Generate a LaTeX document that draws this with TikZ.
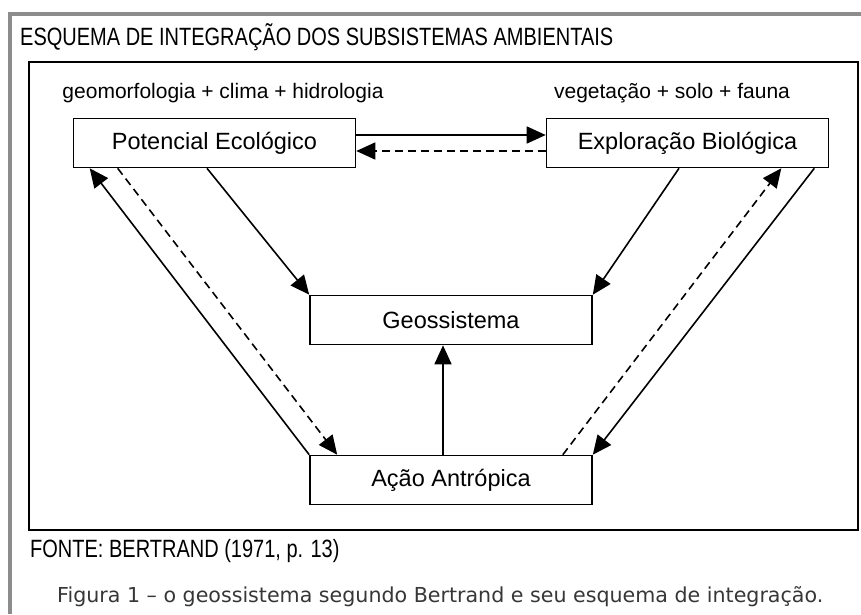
\documentclass[tikz,border=0pt]{standalone}
\usepackage{fontspec}
\setmainfont{Liberation Sans}
\newfontfamily\narrowfont{Liberation Sans}[FakeStretch=0.8]
\newfontfamily\captionfont{DejaVu Sans}
\usepackage{tikz}
\usetikzlibrary{arrows.meta, positioning}
\definecolor{framegray}{RGB}{140,140,140}
\definecolor{captiongray}{RGB}{55,55,55}

\begin{document}
\begin{tikzpicture}[
    x=1pt, y=-1pt,
    box/.style={rectangle, draw, line width=1.6pt, align=center, minimum width=282pt, minimum height=49pt, inner sep=0pt, font=\fontsize{23.5}{27}\selectfont},
    arrow/.style={-{Triangle[length=19pt, width=17pt]}, line width=1.6pt},
    dasharrow/.style={arrow, dash pattern=on 8pt off 5pt},
    note/.style={inner sep=0pt, font=\fontsize{21}{25}\selectfont}
]
\useasboundingbox[fill=white] (0,0) rectangle (861,614);
% gray frame and outer box
\draw[framegray, line width=4pt] (861,14) -- (10,14) -- (10,614);
\draw[line width=1.6pt] (29,62) rectangle (858,530);

\node[anchor=base west, inner sep=0pt, font=\narrowfont\fontsize{25}{29}\selectfont] (title) at (20,45) {ESQUEMA DE INTEGRAÇÃO DOS SUBSISTEMAS AMBIENTAIS};

\node[box] (potencial) at (214.5,143) {Potencial Ecológico};
\node[box] (exploracao) at (687.5,143) {Exploração Biológica};
\node[box] (geo) at (451,320) {Geossistema};
\node[box] (acao) at (451,480) {Ação Antrópica};

\node[note, anchor=base] (abiotico) at (223,98) {geomorfologia + clima + hidrologia};
\node[note, anchor=base] (biotico) at (672,98) {vegetação + solo + fauna};

\node[anchor=base west, inner sep=0pt, font=\narrowfont\fontsize{25}{29}\selectfont] (fonte) at (30,557) {FONTE: BERTRAND (1971, p. 13)};
\node[anchor=base west, inner sep=0pt, text=captiongray, font=\captionfont\fontsize{20.6}{24}\selectfont] (legenda) at (57,602) {Figura 1 – o geossistema segundo Bertrand e seu esquema de integração.};

\draw[arrow] ([yshift=8pt]potencial.east) -- ([yshift=8pt]exploracao.west);
\draw[dasharrow] ([yshift=-8pt]exploracao.west) -- ([yshift=-8pt]potencial.east);
\draw[arrow] ([xshift=-7.5pt]potencial.south) -- (geo.north west);
\draw[arrow] ([xshift=-8.5pt]exploracao.south) -- (geo.north east);
\draw[arrow] (acao.north west) -- ([xshift=17pt]potencial.south west);
\draw[dasharrow] ([xshift=45pt]potencial.south west) -- ([xshift=28pt]acao.north west);
\draw[dasharrow] ([xshift=-30pt]acao.north east) -- ([xshift=-48pt]exploracao.south east);
\draw[arrow] ([xshift=-15pt]exploracao.south east) -- (acao.north east);
\draw[arrow] ([xshift=-8pt]acao.north) -- ([xshift=-8pt]geo.south);
\end{tikzpicture}
\end{document}
